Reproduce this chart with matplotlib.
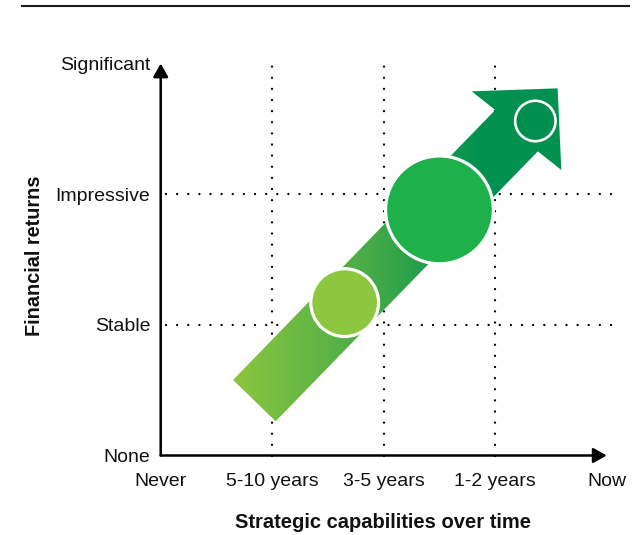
import numpy as np
import matplotlib
matplotlib.use("Agg")
import matplotlib.pyplot as plt
from matplotlib.patches import Polygon
from matplotlib.colors import LinearSegmentedColormap
from matplotlib.patches import ArrowStyle

plt.rcParams['font.family'] = ['Liberation Sans', 'DejaVu Sans']
plt.rcParams['lines.scale_dashes'] = False

# ---- data ----
x_labels = ['Never', '5-10 years', '3-5 years', '1-2 years', 'Now']
x_pos = [0, 1, 2, 3, 4]
y_labels = ['None', 'Stable', 'Impressive', 'Significant']
y_pos = [0, 1, 2, 3]

bubble_x = [1.65, 2.50, 3.36]
bubble_y = [1.17, 1.88, 2.56]
bubble_radius_px = [35.5, 55.5, 21.5]
bubble_ring_px = [3.2, 3.2, 2.6]
bubble_colors = ['#8DC63F', '#1DB04B', '#008E50']

arrow_tail = (0.84, 0.42)
arrow_tip = (3.56, 2.81)

x_title = 'Strategic capabilities over time'
y_title = 'Financial returns'

# ---- figure ----
W, H = 639, 535
fig = plt.figure(figsize=(W / 100, H / 100), dpi=100)
ax = fig.add_axes([160.7 / W, 79.5 / H, 446 / W, 392 / H])
ax.set_xlim(0, 4)
ax.set_ylim(0, 3)
for s in ax.spines.values():
    s.set_visible(False)

# dotted guide lines
dot_style = (0, (0.01, 8.0))
for xv in x_pos[1:-1]:
    ax.plot([xv, xv], [0, 3.0], color='black', lw=1.7, linestyle=dot_style,
            dash_capstyle='round', zorder=1, clip_on=False)
for yv in y_pos[1:-1]:
    ax.plot([0.05, 4.08], [yv, yv], color='black', lw=1.7, linestyle=dot_style,
            dash_capstyle='round', zorder=1, clip_on=False)

# ---- big gradient arrow ----
T = ax.transData.transform(arrow_tail)
P = ax.transData.transform(arrow_tip)
d = (P - T) / np.linalg.norm(P - T)
n = np.array([-d[1], d[0]])
shaft_hw = 29.7
head_hw = 59.5
head_len = 59.0
pts_disp = np.array([
    T + shaft_hw * n,
    P - head_len * d + shaft_hw * n,
    P - (head_len + 3) * d + head_hw * n,
    P,
    P - (head_len - 3) * d - head_hw * n,
    P - head_len * d - shaft_hw * n,
    T - shaft_hw * n,
])
pts = ax.transData.inverted().transform(pts_disp)
poly = Polygon(pts, closed=True, facecolor='none', edgecolor='none', zorder=2)
ax.add_patch(poly)

cmap = LinearSegmentedColormap.from_list('g', ['#8DC63F', '#4FAE47', '#009150'])
xmin, xmax = pts[:, 0].min(), pts[:, 0].max()
ymin, ymax = pts[:, 1].min(), pts[:, 1].max()
xs = np.linspace(xmin, xmax, 400)
g0, g1 = 0.63, 2.86
t = np.clip((xs - g0) / (g1 - g0), 0, 1)
img = ax.imshow(t[np.newaxis, :], cmap=cmap, vmin=0, vmax=1, aspect='auto',
                extent=[xmin, xmax, ymin, ymax], origin='lower',
                interpolation='bilinear', zorder=2)
img.set_clip_path(poly)
ax.set_xlim(0, 4)
ax.set_ylim(0, 3)

# ---- bubbles ----
px2pt = 72 / 100
sizes = [(2 * (r - w / 2) * px2pt) ** 2 for r, w in zip(bubble_radius_px, bubble_ring_px)]
ax.scatter(bubble_x, bubble_y, s=sizes, c=bubble_colors, edgecolors='white',
           linewidths=[w * px2pt for w in bubble_ring_px], zorder=4, clip_on=False)

# ---- axes arrows ----
style = ArrowStyle('-|>', head_length=0.8, head_width=0.45)
ax.annotate('', xy=(0, 3.0), xytext=(0, 0), xycoords='data',
            arrowprops=dict(arrowstyle=style, mutation_scale=10, lw=1.8,
                            color='black', shrinkA=0, shrinkB=0),
            annotation_clip=False, zorder=5)
ax.annotate('', xy=(4.0, 0), xytext=(0, 0), xycoords='data',
            arrowprops=dict(arrowstyle=style, mutation_scale=10, lw=1.8,
                            color='black', shrinkA=0, shrinkB=0),
            annotation_clip=False, zorder=5)

# ---- ticks ----
ax.set_xticks(x_pos, x_labels)
ax.set_yticks(y_pos, y_labels)
ax.tick_params(axis='both', length=0, labelsize=14, colors='#111111')
ax.tick_params(axis='x', pad=12.3)
ax.tick_params(axis='y', pad=7.5)

# ---- titles ----
fig.text(383 / W, 1 - 523 / H, x_title, ha='center', va='center',
         fontsize=14.5, fontweight='bold', color='#111111')
fig.text(35 / W, 1 - 256 / H, y_title, ha='center', va='center', rotation=90,
         fontsize=14.3, fontweight='bold', color='#111111')

# top rule
fig.add_artist(plt.Line2D([21.7 / W, 629 / W], [1 - 6 / H, 1 - 6 / H],
                          color='#1a1a1a', lw=1.5))

fig.savefig('out.png', dpi=100)
